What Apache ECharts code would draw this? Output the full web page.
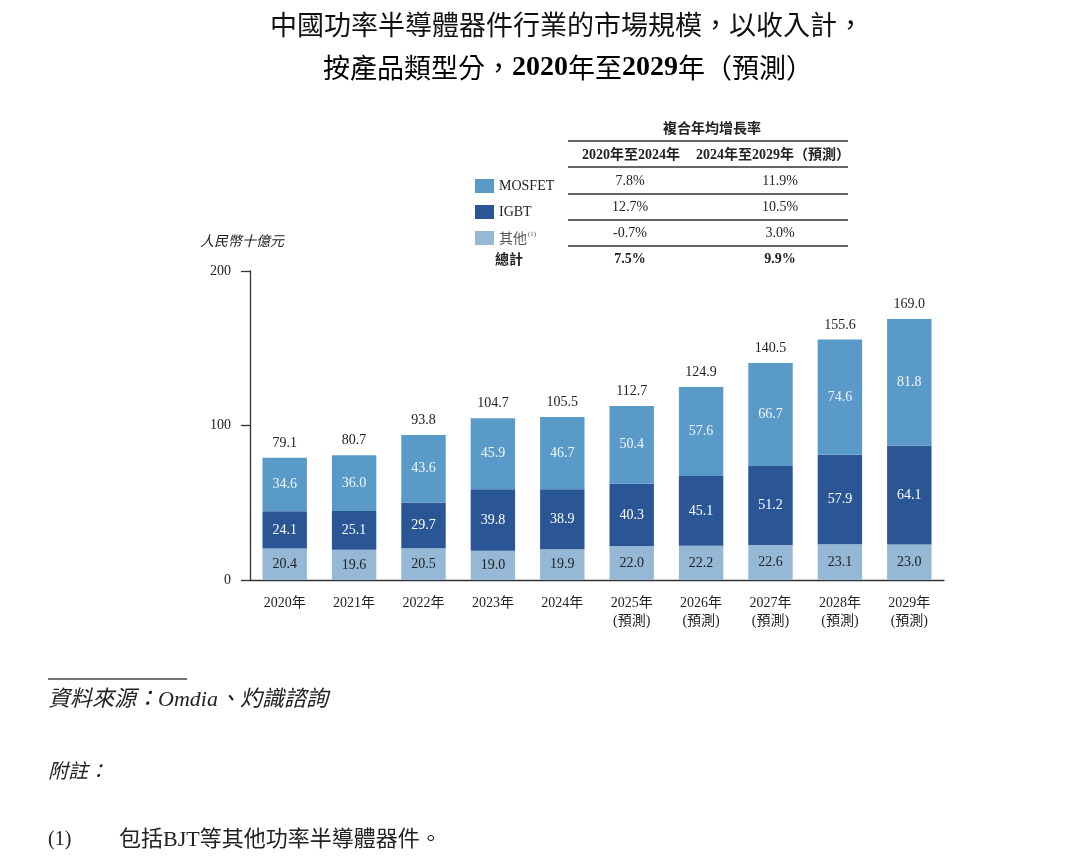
<!DOCTYPE html>
<html lang="zh-Hant">
<head>
<meta charset="utf-8">
<title>中國功率半導體器件行業的市場規模</title>
<script src="https://cdn.jsdelivr.net/npm/echarts/dist/echarts.min.js"></script>
<style>
  html, body { margin: 0; padding: 0; background: #fff; }
  #chart { width: 1080px; height: 859px; }
</style>
</head>
<body>
<div id="chart"></div>
<script>
// 資料（人民幣十億元）
const years = ['2020年', '2021年', '2022年', '2023年', '2024年',
  '2025年\n(預測)', '2026年\n(預測)', '2027年\n(預測)', '2028年\n(預測)', '2029年\n(預測)'];
const other = [20.4, 19.6, 20.5, 19.0, 19.9, 22.0, 22.2, 22.6, 23.1, 23.0];
const igbt = [24.1, 25.1, 29.7, 39.8, 38.9, 40.3, 45.1, 51.2, 57.9, 64.1];
const mosfet = [34.6, 36.0, 43.6, 45.9, 46.7, 50.4, 57.6, 66.7, 74.6, 81.8];
const totals = [79.1, 80.7, 93.8, 104.7, 105.5, 112.7, 124.9, 140.5, 155.6, 169.0];
const yMax = 200;
const yStep = 100;

// 複合年均增長率表
const cagrHeaders = ['2020年至2024年', '2024年至2029年（預測）'];
const cagrFirst = ['7.8%', '12.7%', '-0.7%', '7.5%'];
const cagrSecond = ['11.9%', '10.5%', '3.0%', '9.9%'];

document.addEventListener('DOMContentLoaded', () => {
    const chart = echarts.init(document.getElementById('chart'));

    const SERIF = "'Liberation Serif', 'Noto Sans CJK TC', serif";
    const CJK = "'Noto Sans CJK TC', 'Liberation Serif', sans-serif";
    const colors = { mosfet: '#5a9ac9', igbt: '#2a5696', other: '#95b8d7' };

    // 表格的文字與線條
    const rowY = [181, 207, 233, 259];
    const tableGraphics = [];
    [141, 167, 194, 220, 246].forEach(y => {
        tableGraphics.push({
            type: 'line', silent: true,
            shape: { x1: 568, y1: y, x2: 848, y2: y },
            style: { stroke: '#333', lineWidth: 1.3 }
        });
    });
    tableGraphics.push({
        type: 'text', x: 712, y: 128,
        style: { text: '複合年均增長率', font: `bold 14px ${CJK}`, fill: '#222', textAlign: 'center', textVerticalAlign: 'middle' }
    });
    tableGraphics.push({
        type: 'text', x: 631, y: 155,
        style: { text: cagrHeaders[0], font: `bold 14px ${SERIF}`, fill: '#222', textAlign: 'center', textVerticalAlign: 'middle' }
    });
    tableGraphics.push({
        type: 'text', x: 773, y: 155,
        style: { text: cagrHeaders[1], font: `bold 14px ${SERIF}`, fill: '#222', textAlign: 'center', textVerticalAlign: 'middle' }
    });
    rowY.forEach((y, i) => {
        const isTotal = i === rowY.length - 1;
        const w = isTotal ? 'bold ' : '';
        tableGraphics.push({
            type: 'text', x: 630, y: y,
            style: { text: cagrFirst[i], font: `${w}14px ${SERIF}`, fill: '#222', textAlign: 'center', textVerticalAlign: 'middle' }
        });
        tableGraphics.push({
            type: 'text', x: 780, y: y,
            style: { text: cagrSecond[i], font: `${w}14px ${SERIF}`, fill: '#222', textAlign: 'center', textVerticalAlign: 'middle' }
        });
    });
    tableGraphics.push({
        type: 'text', x: 495, y: 259,
        style: { text: '總計', font: `bold 14px ${CJK}`, fill: '#222', textVerticalAlign: 'middle' }
    });

    const labelStyle = (color) => ({
        show: true,
        position: 'inside',
        fontFamily: SERIF,
        fontSize: 14,
        color: color,
        formatter: p => p.value.toFixed(1)
    });

    const option = {
        animation: false,
        backgroundColor: '#fff',
        textStyle: { fontFamily: SERIF },
        grid: { left: 250, right: 136, top: 271, bottom: 279 },
        legend: {
            data: ['MOSFET', 'IGBT', '其他'],
            orient: 'vertical',
            left: 470,
            top: 174,
            itemWidth: 19,
            itemHeight: 14,
            itemGap: 12,
            icon: 'rect',
            selectedMode: false,
            formatter: name => name === '其他' ? '{a|其他}{s|(1)}' : name,
            textStyle: {
                fontFamily: SERIF,
                fontSize: 14,
                color: '#222',
                rich: {
                    a: { fontFamily: CJK, fontSize: 14, color: '#555' },
                    s: { fontSize: 7, color: '#555', padding: [0, 0, 7, 1] }
                }
            }
        },
        xAxis: {
            type: 'category',
            data: years,
            axisLine: { lineStyle: { color: '#333', width: 1.3 } },
            axisTick: { show: false },
            axisLabel: {
                fontFamily: SERIF,
                fontSize: 14,
                lineHeight: 18,
                color: '#222',
                margin: 14
            }
        },
        yAxis: {
            type: 'value',
            min: 0,
            max: yMax,
            interval: yStep,
            axisLine: { show: true, lineStyle: { color: '#333', width: 1.3 } },
            axisTick: { show: true, length: 9, lineStyle: { color: '#333', width: 1.3 } },
            axisLabel: { fontFamily: SERIF, fontSize: 14, color: '#222', margin: 19 },
            splitLine: { show: false }
        },
        series: [
            {
                name: '其他', type: 'bar', stack: 'total', data: other, barWidth: '64%',
                itemStyle: { color: colors.other },
                label: labelStyle('#222')
            },
            {
                name: 'IGBT', type: 'bar', stack: 'total', data: igbt,
                itemStyle: { color: colors.igbt },
                label: labelStyle('#ffffff')
            },
            {
                name: 'MOSFET', type: 'bar', stack: 'total', data: mosfet,
                itemStyle: { color: colors.mosfet },
                label: labelStyle('#f2f7fc')
            },
            {
                // 柱頂總計數字
                name: '總計', type: 'line', data: totals, silent: true,
                symbol: 'circle', symbolSize: 1,
                itemStyle: { color: 'transparent' },
                lineStyle: { opacity: 0 },
                label: {
                    show: true, position: 'top', distance: 7,
                    fontFamily: SERIF, fontSize: 14, color: '#222',
                    formatter: p => p.value.toFixed(1)
                }
            }
        ],
        graphic: [
            {
                type: 'text', x: 567, y: 25,
                style: {
                    text: '中國功率半導體器件行業的市場規模，以收入計，',
                    font: `normal 27px ${CJK}`, fill: '#111', textAlign: 'center', textVerticalAlign: 'middle'
                }
            },
            {
                type: 'text', x: 568, y: 68,
                style: {
                    text: '{c|按產品類型分，}{n|2020}{c|年至}{n|2029}{c|年（預測）}',
                    textAlign: 'center', textVerticalAlign: 'middle',
                    rich: {
                        c: { fontFamily: CJK, fontWeight: 'normal', fontSize: 27, color: '#111' },
                        n: { fontFamily: SERIF, fontWeight: 'bold', fontSize: 28, color: '#111' }
                    }
                }
            },
            {
                type: 'text', x: 200, y: 241,
                style: { text: '人民幣十億元', font: `italic 14px ${CJK}`, fill: '#222', textVerticalAlign: 'middle' }
            },
            ...tableGraphics,
            {
                type: 'line', silent: true,
                shape: { x1: 48, y1: 679, x2: 187, y2: 679 },
                style: { stroke: '#444', lineWidth: 1.5 }
            },
            {
                type: 'text', x: 48, y: 700,
                style: { text: '資料來源：Omdia、灼識諮詢', font: `italic 22px ${SERIF}`, fill: '#222', textVerticalAlign: 'middle' }
            },
            {
                type: 'text', x: 48, y: 770,
                style: { text: '附註：', font: `italic 20px ${CJK}`, fill: '#222', textVerticalAlign: 'middle' }
            },
            {
                type: 'text', x: 48, y: 840,
                style: { text: '(1)', font: `20px ${SERIF}`, fill: '#222', textVerticalAlign: 'middle' }
            },
            {
                type: 'text', x: 119, y: 840,
                style: { text: '包括BJT等其他功率半導體器件。', font: `22px ${SERIF}`, fill: '#222', textVerticalAlign: 'middle' }
            }
        ]
    };

    chart.setOption(option);
    window.addEventListener('resize', () => chart.resize());
});
</script>
</body>
</html>
